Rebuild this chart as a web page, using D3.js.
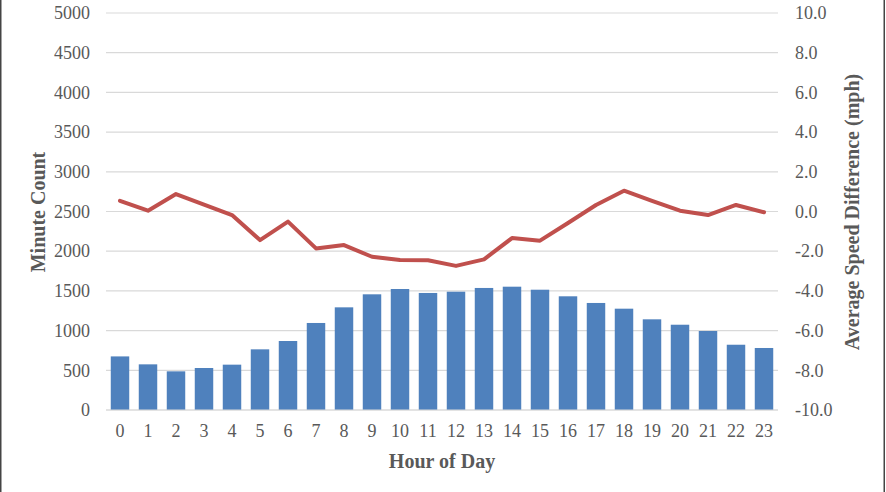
<!DOCTYPE html>
<html><head><meta charset="utf-8">
<script src="https://cdn.jsdelivr.net/npm/d3@7"></script>
<style>
html,body{margin:0;padding:0;background:#fff;}
svg{display:block;font-family:"Liberation Serif","Times New Roman",serif;}
</style></head>
<body><svg id="chart" width="886" height="492"></svg>
<script>
const hours = ["0","1","2","3","4","5","6","7","8","9","10","11","12","13","14","15","16","17","18","19","20","21","22","23"];
const minuteCount = [675,575,487,529,571,764,869,1096,1293,1457,1524,1474,1490,1537,1553,1515,1432,1348,1276,1142,1074,995,822,781];
const speedDiff = [0.54,0.04,0.88,0.35,-0.18,-1.44,-0.51,-1.86,-1.69,-2.28,-2.44,-2.46,-2.74,-2.41,-1.34,-1.47,-0.58,0.33,1.05,0.54,0.04,-0.18,0.33,-0.04];
const leftTicks = [0,500,1000,1500,2000,2500,3000,3500,4000,4500,5000];
const rightTicks = [-10,-8,-6,-4,-2,0,2,4,6,8,10];

const svg = d3.select("#chart");
const W = 886, H = 492;
const m = {left:106, right:778, top:13, bottom:410};
const FONT = "'Liberation Serif','Times New Roman',serif";

svg.append("rect").attr("x",0).attr("y",0).attr("width",1.5).attr("height",H).attr("fill","#444");
svg.append("rect").attr("x",883.5).attr("y",0).attr("width",1.5).attr("height",H).attr("fill","#444");

const x = d3.scaleBand().domain(hours).range([m.left, m.right]).paddingInner(0.34).paddingOuter(0.17);
const yL = d3.scaleLinear().domain([0,5000]).range([m.bottom, m.top]);
const yR = d3.scaleLinear().domain([-10,10]).range([m.bottom, m.top]);

svg.append("g").selectAll("line").data(leftTicks).join("line")
  .attr("x1",m.left).attr("x2",m.right)
  .attr("y1",d=>yL(d)).attr("y2",d=>yL(d))
  .attr("stroke","#d9d9d9").attr("stroke-width",1.2);

svg.append("g").selectAll("rect").data(minuteCount).join("rect")
  .attr("x",(d,i)=>x(hours[i])).attr("width",x.bandwidth())
  .attr("y",d=>yL(d)).attr("height",d=>yL(0)-yL(d))
  .attr("fill","#4f81bd");

const line = d3.line().x((d,i)=>x(hours[i])+x.bandwidth()/2).y(d=>yR(d));
svg.append("path").datum(speedDiff).attr("d",line)
  .attr("fill","none").attr("stroke","#c0504d").attr("stroke-width",4)
  .attr("stroke-linejoin","round").attr("stroke-linecap","round");

function styleTicks(g){
  g.attr("font-family",FONT).attr("font-size",18);
  g.selectAll("text").attr("fill","#595959").style("font-size","18px").style("font-family",FONT);
}

const axL = d3.axisLeft(yL).tickValues(leftTicks).tickSize(0).tickPadding(16).tickFormat(d=>String(d));
const gL = svg.append("g").attr("transform",`translate(${m.left},0)`).call(axL);
gL.select(".domain").remove();
styleTicks(gL);

const axR = d3.axisRight(yR).tickValues(rightTicks).tickSize(0).tickPadding(17).tickFormat(d=>d.toFixed(1));
const gR = svg.append("g").attr("transform",`translate(${m.right},0)`).call(axR);
gR.select(".domain").remove();
styleTicks(gR);

const axB = d3.axisBottom(x).tickSize(0).tickPadding(14);
const gB = svg.append("g").attr("transform",`translate(0,${m.bottom})`).call(axB);
gB.select(".domain").attr("stroke","#d9d9d9").attr("stroke-width",1.2).attr("d",`M${m.left},0H${m.right}`);
styleTicks(gB);

const tStyle = s => s.attr("fill","#595959").attr("text-anchor","middle").style("font-size","20px").style("font-weight","bold").style("font-family",FONT);
svg.append("text").attr("x",(m.left+m.right)/2).attr("y",468).call(tStyle).text("Hour of Day");
svg.append("text").attr("transform","translate(45,212) rotate(-90)").call(tStyle).text("Minute Count");
svg.append("text").attr("transform","translate(859,212) rotate(-90)").call(tStyle).text("Average Speed Difference (mph)");
</script></body></html>
